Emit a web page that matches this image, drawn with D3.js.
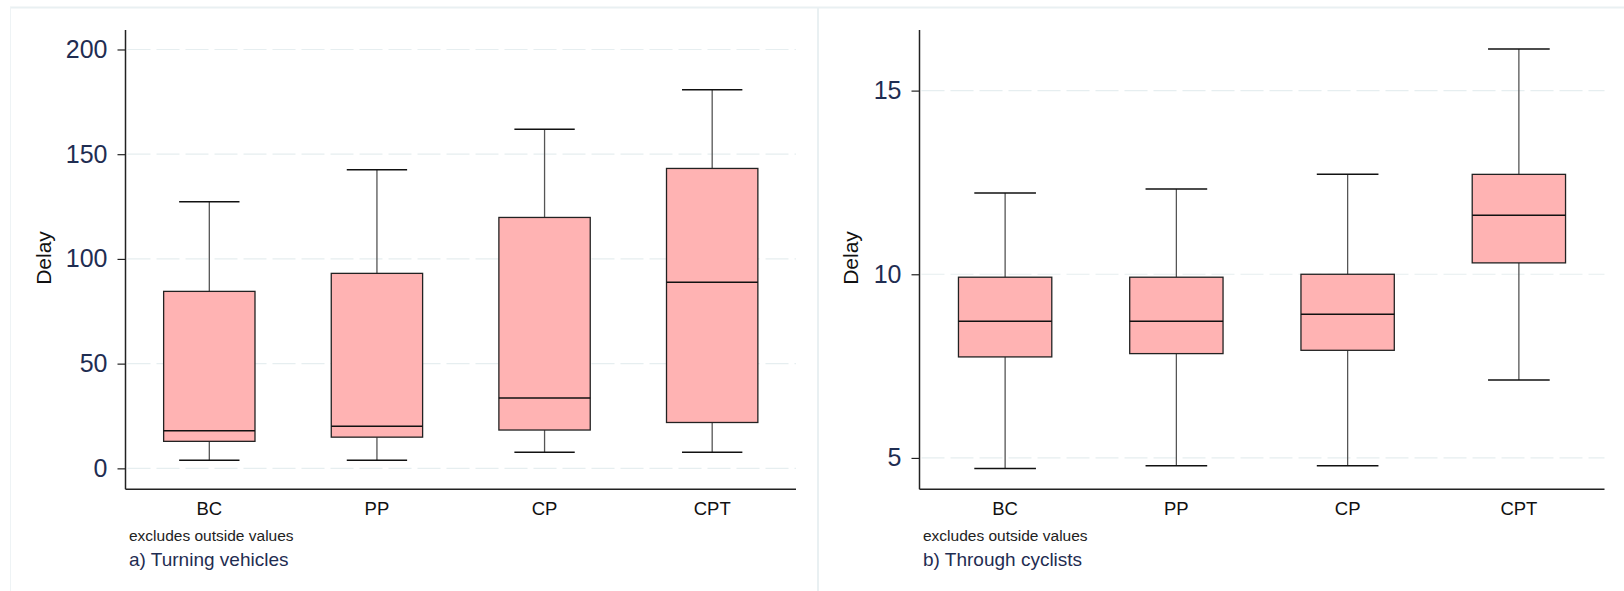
<!DOCTYPE html>
<html>
<head>
<meta charset="utf-8">
<script src="https://cdn.jsdelivr.net/npm/d3@7"></script>
<style>
  body { margin: 0; background: #fff; }
  svg { display: block; font-family: "Liberation Sans", Arial, sans-serif; }
</style>
</head>
<body>
<div id="chart"></div>
<script>
// categories along the x axis
var categories = ["BC", "PP", "CP", "CPT"];

// five-number summaries per category: [lower whisker, q1, median, q3, upper whisker]
var turningVehicles = [
  [3.9, 12.9, 17.9, 84.5, 127.3],
  [3.9, 14.9, 20.1, 93.1, 142.6],
  [7.7, 18.3, 33.6, 119.8, 161.9],
  [7.7, 21.9, 88.8, 143.2, 180.8]
];
var throughCyclists = [
  [4.71, 7.75, 8.72, 9.92, 12.21],
  [4.79, 7.84, 8.72, 9.92, 12.32],
  [4.79, 7.93, 8.91, 10.0, 12.72],
  [7.12, 10.31, 11.61, 12.72, 16.13]
];

var ticksA = [0, 50, 100, 150, 200],
    ticksB = [5, 10, 15];

var panels = [
  {stats: turningVehicles, ticks: ticksA, domain: [-10, 209.3], left: 125.5, right: 796,
   labelX: 51, noteX: 129, title: "a) Turning vehicles"},
  {stats: throughCyclists, ticks: ticksB, domain: [4.146, 16.65], left: 919.5, right: 1604.5,
   labelX: 858, noteX: 923, title: "b) Through cyclists"}
];

var W = 1624, H = 591,
    plotTop = 30, plotBottom = 489.3;

var svg = d3.select("#chart").append("svg")
    .attr("width", W)
    .attr("height", H);

// panel frames
svg.append("line").attr("x1", 10).attr("x2", W).attr("y1", 7.5).attr("y2", 7.5)
  .attr("stroke", "#e9f0f2").attr("stroke-width", 2);
svg.append("line").attr("x1", 10.5).attr("x2", 10.5).attr("y1", 7).attr("y2", H)
  .attr("stroke", "#eef3f5").attr("stroke-width", 1);
svg.append("line").attr("x1", 818).attr("x2", 818).attr("y1", 7).attr("y2", H)
  .attr("stroke", "#e9f0f2").attr("stroke-width", 2);

panels.forEach(function(p) {
  var x = d3.scaleBand().domain(categories).range([p.left, p.right]),
      y = d3.scaleLinear().domain(p.domain).range([plotBottom, plotTop]);

  var g = svg.append("g");

  // dashed grid
  g.selectAll(".grid").data(p.ticks).enter().append("line")
    .attr("x1", p.left + 2).attr("x2", p.right)
    .attr("y1", function(d) { return y(d); })
    .attr("y2", function(d) { return y(d); })
    .attr("stroke", "#e6eef0")
    .attr("stroke-width", 1.2)
    .attr("stroke-dasharray", "23,6");

  // y axis
  var yAxis = g.append("g")
    .attr("transform", "translate(" + p.left + ",0)")
    .call(d3.axisLeft(y).tickValues(p.ticks).tickSize(8).tickPadding(10).tickSizeOuter(0));
  yAxis.select(".domain").attr("stroke", "#222").attr("stroke-width", 1.5)
    .attr("d", "M0," + plotTop + "V" + plotBottom);
  yAxis.selectAll(".tick line").attr("stroke", "#222").attr("stroke-width", 1.2);
  yAxis.selectAll("text")
    .attr("font-size", 25)
    .attr("font-family", "Liberation Sans, Arial, sans-serif")
    .attr("fill", "#1f2d52");

  // x axis
  var xAxis = g.append("g")
    .attr("transform", "translate(0," + plotBottom + ")")
    .call(d3.axisBottom(x).tickSize(0).tickPadding(13));
  xAxis.select(".domain").attr("stroke", "#222").attr("stroke-width", 1.5)
    .attr("d", "M" + p.left + ",0H" + p.right);
  xAxis.selectAll("text")
    .attr("font-size", 18.5)
    .attr("font-family", "Liberation Sans, Arial, sans-serif")
    .attr("fill", "#111");

  // y label
  g.append("text")
    .attr("transform", "translate(" + p.labelX + "," + 258 + ") rotate(-90)")
    .attr("text-anchor", "middle")
    .attr("font-size", 21)
    .attr("fill", "#111")
    .text("Delay");

  var bw = x.bandwidth() * 0.545,
      cw = x.bandwidth() * 0.36;

  var box = g.selectAll(".box").data(p.stats).enter().append("g")
    .attr("transform", function(d, i) { return "translate(" + (x(categories[i]) + x.bandwidth() / 2) + ",0)"; });

  // whiskers
  box.append("line")
    .attr("x1", 0).attr("x2", 0)
    .attr("y1", function(d) { return y(d[4]); })
    .attr("y2", function(d) { return y(d[3]); })
    .attr("stroke", "#555").attr("stroke-width", 1.3);
  box.append("line")
    .attr("x1", 0).attr("x2", 0)
    .attr("y1", function(d) { return y(d[1]); })
    .attr("y2", function(d) { return y(d[0]); })
    .attr("stroke", "#555").attr("stroke-width", 1.3);
  box.selectAll(".cap").data(function(d) { return [d[0], d[4]]; }).enter().append("line")
    .attr("x1", -cw / 2).attr("x2", cw / 2)
    .attr("y1", function(v) { return y(v); })
    .attr("y2", function(v) { return y(v); })
    .attr("stroke", "#111").attr("stroke-width", 1.5);

  // boxes
  box.append("rect")
    .attr("x", -bw / 2)
    .attr("width", bw)
    .attr("y", function(d) { return y(d[3]); })
    .attr("height", function(d) { return y(d[1]) - y(d[3]); })
    .attr("fill", "#ffb3b3")
    .attr("stroke", "#222")
    .attr("stroke-width", 1.3);
  box.append("line")
    .attr("x1", -bw / 2).attr("x2", bw / 2)
    .attr("y1", function(d) { return y(d[2]); })
    .attr("y2", function(d) { return y(d[2]); })
    .attr("stroke", "#111").attr("stroke-width", 1.5);

  // notes
  g.append("text")
    .attr("x", p.noteX).attr("y", 540.5)
    .attr("font-size", 15.5)
    .attr("fill", "#222")
    .text("excludes outside values");
  g.append("text")
    .attr("x", p.noteX).attr("y", 566)
    .attr("font-size", 19)
    .attr("fill", "#1f2d52")
    .text(p.title);
});
</script>
</body>
</html>
